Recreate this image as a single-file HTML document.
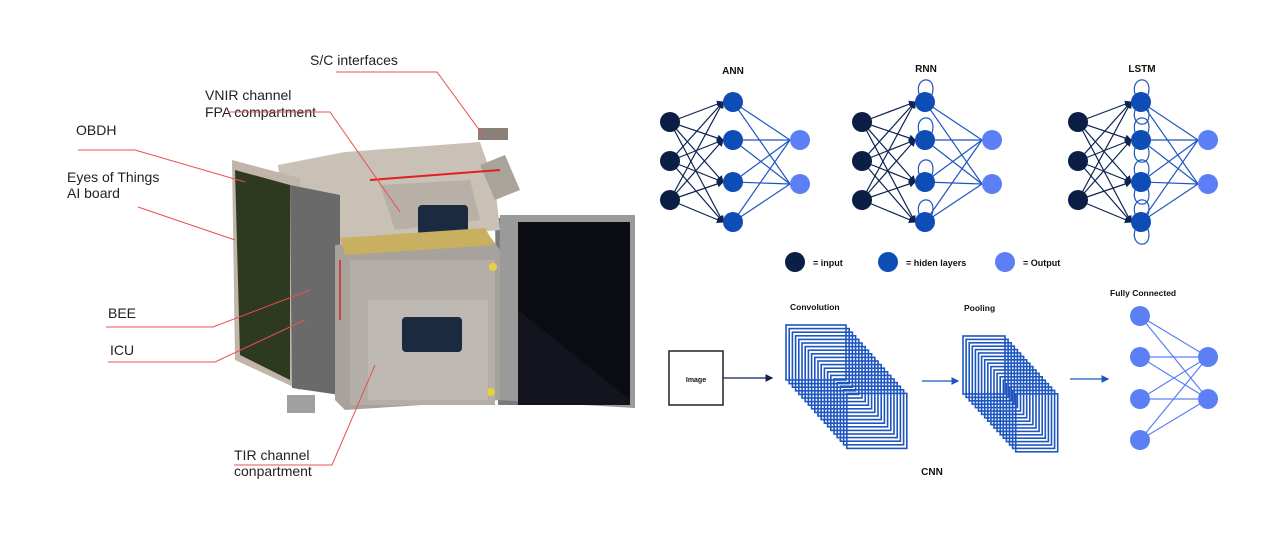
<!DOCTYPE html>
<html><head><meta charset="utf-8"><style>
html,body{margin:0;padding:0;background:#fff;}
svg{display:block;}
text{font-family:"Liberation Sans",sans-serif;}
</style></head><body>
<svg width="1280" height="546" viewBox="0 0 1280 546" xmlns="http://www.w3.org/2000/svg">
<defs>
<marker id="ad" markerWidth="6" markerHeight="6" refX="5" refY="3" orient="auto"><path d="M0,0L6,3L0,6z" fill="#0d2350"/></marker>
<marker id="ab" markerWidth="6" markerHeight="6" refX="5" refY="3" orient="auto"><path d="M0,0L6,3L0,6z" fill="#1e56c0"/></marker>
<g id="ih" stroke="#0d2350" stroke-width="1.2" marker-end="url(#ad)">
<line x1="670" y1="122" x2="723" y2="102"/><line x1="670" y1="122" x2="723" y2="140"/><line x1="670" y1="122" x2="723" y2="182"/><line x1="670" y1="122" x2="723" y2="222"/>
<line x1="670" y1="161" x2="723" y2="102"/><line x1="670" y1="161" x2="723" y2="140"/><line x1="670" y1="161" x2="723" y2="182"/><line x1="670" y1="161" x2="723" y2="222"/>
<line x1="670" y1="200" x2="723" y2="102"/><line x1="670" y1="200" x2="723" y2="140"/><line x1="670" y1="200" x2="723" y2="182"/><line x1="670" y1="200" x2="723" y2="222"/>
</g>
<g id="ho" stroke="#1e56c0" stroke-width="1.2">
<line x1="733" y1="102" x2="790" y2="140"/><line x1="733" y1="102" x2="790" y2="184"/>
<line x1="733" y1="140" x2="790" y2="140"/><line x1="733" y1="140" x2="790" y2="184"/>
<line x1="733" y1="182" x2="790" y2="140"/><line x1="733" y1="182" x2="790" y2="184"/>
<line x1="733" y1="222" x2="790" y2="140"/><line x1="733" y1="222" x2="790" y2="184"/>
</g>
<g id="loopt" fill="none" stroke="#1e56c0" stroke-width="1.2">
<path d="M727,94 C722,76 746,74 740,95"/><path d="M727,132 C722,114 746,112 740,133"/><path d="M727,174 C722,156 746,154 740,175"/><path d="M727,214 C722,196 746,194 740,215"/>
</g>
<g id="loopb" fill="none" stroke="#1e56c0" stroke-width="1.2">
<path d="M727,110 C722,128 746,130 740,109"/><path d="M727,148 C722,166 746,168 740,147"/><path d="M727,190 C722,208 746,210 740,189"/><path d="M727,230 C722,248 746,250 740,229"/>
</g>
<g id="nodes">
<circle cx="670" cy="122" r="10" fill="#0b1e45"/><circle cx="670" cy="161" r="10" fill="#0b1e45"/><circle cx="670" cy="200" r="10" fill="#0b1e45"/>
<circle cx="733" cy="102" r="10" fill="#0e4db5"/><circle cx="733" cy="140" r="10" fill="#0e4db5"/><circle cx="733" cy="182" r="10" fill="#0e4db5"/><circle cx="733" cy="222" r="10" fill="#0e4db5"/>
<circle cx="800" cy="140" r="10" fill="#5c7ff5"/><circle cx="800" cy="184" r="10" fill="#5c7ff5"/>
</g>
</defs>

<!-- LEFT instrument -->
<g>
<polygon points="495,218 520,218 520,405 498,405" fill="#7a7a7a"/>
<polygon points="500,215 635,215 635,408 498,400" fill="#9a9a9a"/>
<polygon points="518,222 630,222 630,405 518,405" fill="#0b0b12"/>
<polygon points="518,310 630,400 630,405 518,405" fill="#14141e"/>
<polygon points="278,165 345,152 480,142 495,185 500,230 340,245 285,230" fill="#c9c1b6"/>
<polygon points="380,185 470,180 480,220 395,230" fill="#b8b0a6"/>
<rect x="418" y="205" width="50" height="30" rx="4" fill="#1a2a40"/>
<rect x="478" y="128" width="30" height="12" fill="#8a807a"/>
<polygon points="480,165 505,155 520,190 495,200" fill="#aaa39a"/>
<line x1="370" y1="180" x2="500" y2="170" stroke="#e02020" stroke-width="2"/>
<polygon points="232,160 300,178 300,390 235,360" fill="#c0b5a8"/>
<polygon points="235,170 290,185 290,380 240,355" fill="#2e3a20"/>
<polygon points="290,185 340,195 340,395 292,388" fill="#6a6a6a"/>
<polygon points="335,245 485,230 500,250 500,400 345,410 335,400" fill="#a8a29c"/>
<polygon points="340,238 485,228 495,245 345,255" fill="#c8b060"/>
<rect x="350" y="260" width="145" height="145" fill="#b4aea8"/>
<rect x="368" y="300" width="120" height="100" fill="#bdb8b2"/>
<rect x="402" y="317" width="60" height="35" rx="4" fill="#1b2a3e"/>
<circle cx="493" cy="267" r="4" fill="#e8d040"/><circle cx="491" cy="392" r="4" fill="#e8d040"/>
<rect x="287" y="395" width="28" height="18" fill="#a0a0a0"/>
<line x1="340" y1="260" x2="340" y2="320" stroke="#e02020" stroke-width="1.5"/>
</g>
<g font-size="14" fill="#222">
<text x="310" y="65">S/C interfaces</text>
<text x="205" y="100">VNIR channel</text>
<text x="205" y="117">FPA compartment</text>
<text x="76" y="135">OBDH</text>
<text x="67" y="182">Eyes of Things</text>
<text x="67" y="198">AI board</text>
<text x="108" y="318">BEE</text>
<text x="110" y="355">ICU</text>
<text x="234" y="460">TIR channel</text>
<text x="234" y="476">conpartment</text>
</g>
<g stroke="#e85050" stroke-width="1" fill="none">
<polyline points="336,72 437,72 483,135"/>
<polyline points="228,112 330,112 400,212"/>
<polyline points="78,150 135,150 245,182"/>
<polyline points="138,207 235,240"/>
<polyline points="106,327 213,327 310,290"/>
<polyline points="108,362 215,362 305,320"/>
<polyline points="234,465 332,465 375,365"/>
</g>

<!-- RIGHT: networks -->
<g font-size="10" font-weight="bold" fill="#111" text-anchor="middle">
<text x="733" y="74">ANN</text><text x="926" y="72">RNN</text><text x="1142" y="72">LSTM</text>
</g>
<use href="#ih"/><use href="#ho"/><use href="#nodes"/>
<g transform="translate(192,0)"><use href="#ih"/><use href="#ho"/><use href="#loopt"/><use href="#nodes"/></g>
<g transform="translate(408,0)"><use href="#ih"/><use href="#ho"/><use href="#loopt"/><use href="#loopb"/><use href="#nodes"/></g>

<circle cx="795" cy="262" r="10" fill="#0b1e45"/><text x="813" y="266" font-size="9" font-weight="bold" fill="#111">= input</text>
<circle cx="888" cy="262" r="10" fill="#0e4db5"/><text x="906" y="266" font-size="9" font-weight="bold" fill="#111">= hiden layers</text>
<circle cx="1005" cy="262" r="10" fill="#5c7ff5"/><text x="1023" y="266" font-size="9" font-weight="bold" fill="#111">= Output</text>

<!-- CNN -->
<rect x="669" y="351" width="54" height="54" fill="#fff" stroke="#222" stroke-width="1.5"/>
<text x="696" y="382" font-size="7" font-weight="bold" text-anchor="middle" fill="#111">Image</text>
<line x1="723" y1="378" x2="772" y2="378" stroke="#0d2350" stroke-width="1.3" marker-end="url(#ad)"/>
<line x1="922" y1="381" x2="958" y2="381" stroke="#1e56c0" stroke-width="1.3" marker-end="url(#ab)"/>
<line x1="1070" y1="379" x2="1108" y2="379" stroke="#1e56c0" stroke-width="1.3" marker-end="url(#ab)"/>

<g fill="none" stroke="#1e56c0" stroke-width="1.6">
<rect x="786" y="325" width="60" height="55"/><rect x="789.2" y="328.6" width="60" height="55"/><rect x="792.4" y="332.2" width="60" height="55"/><rect x="795.6" y="335.8" width="60" height="55"/><rect x="798.8" y="339.4" width="60" height="55"/>
<rect x="802" y="343" width="60" height="55"/><rect x="805.2" y="346.6" width="60" height="55"/><rect x="808.4" y="350.2" width="60" height="55"/><rect x="811.6" y="353.8" width="60" height="55"/><rect x="814.8" y="357.4" width="60" height="55"/>
<rect x="818" y="361" width="60" height="55"/><rect x="821.2" y="364.6" width="60" height="55"/><rect x="824.4" y="368.2" width="60" height="55"/><rect x="827.6" y="371.8" width="60" height="55"/><rect x="830.8" y="375.4" width="60" height="55"/>
<rect x="834" y="379" width="60" height="55"/><rect x="837.2" y="382.6" width="60" height="55"/><rect x="840.4" y="386.2" width="60" height="55"/><rect x="843.6" y="389.8" width="60" height="55"/><rect x="846.8" y="393.4" width="60" height="55"/>

<rect x="963" y="336" width="42" height="58"/><rect x="966.1" y="339.4" width="42" height="58"/><rect x="969.2" y="342.8" width="42" height="58"/><rect x="972.3" y="346.2" width="42" height="58"/><rect x="975.4" y="349.6" width="42" height="58"/><rect x="978.5" y="353" width="42" height="58"/>
<rect x="981.6" y="356.4" width="42" height="58"/><rect x="984.7" y="359.8" width="42" height="58"/><rect x="987.8" y="363.2" width="42" height="58"/><rect x="990.9" y="366.6" width="42" height="58"/><rect x="994" y="370" width="42" height="58"/><rect x="997.1" y="373.4" width="42" height="58"/>
<rect x="1000.2" y="376.8" width="42" height="58"/><rect x="1003.3" y="380.2" width="42" height="58"/><rect x="1006.4" y="383.6" width="42" height="58"/><rect x="1009.5" y="387" width="42" height="58"/><rect x="1012.6" y="390.4" width="42" height="58"/><rect x="1015.7" y="393.8" width="42" height="58"/>
</g>

<g stroke="#5c7ff5" stroke-width="1.2">
<line x1="1140" y1="316" x2="1208" y2="357"/><line x1="1140" y1="316" x2="1208" y2="399"/>
<line x1="1140" y1="357" x2="1208" y2="357"/><line x1="1140" y1="357" x2="1208" y2="399"/>
<line x1="1140" y1="399" x2="1208" y2="357"/><line x1="1140" y1="399" x2="1208" y2="399"/>
<line x1="1140" y1="440" x2="1208" y2="357"/><line x1="1140" y1="440" x2="1208" y2="399"/>
</g>
<g fill="#5c7ff5">
<circle cx="1140" cy="316" r="10"/><circle cx="1140" cy="357" r="10"/><circle cx="1140" cy="399" r="10"/><circle cx="1140" cy="440" r="10"/>
<circle cx="1208" cy="357" r="10"/><circle cx="1208" cy="399" r="10"/>
</g>

<g font-size="8.5" font-weight="bold" fill="#111">
<text x="790" y="310">Convolution</text><text x="964" y="311">Pooling</text><text x="1110" y="296">Fully Connected</text>
</g>
<text x="932" y="475" font-size="10" font-weight="bold" text-anchor="middle" fill="#111">CNN</text>
</svg>
</body></html>
